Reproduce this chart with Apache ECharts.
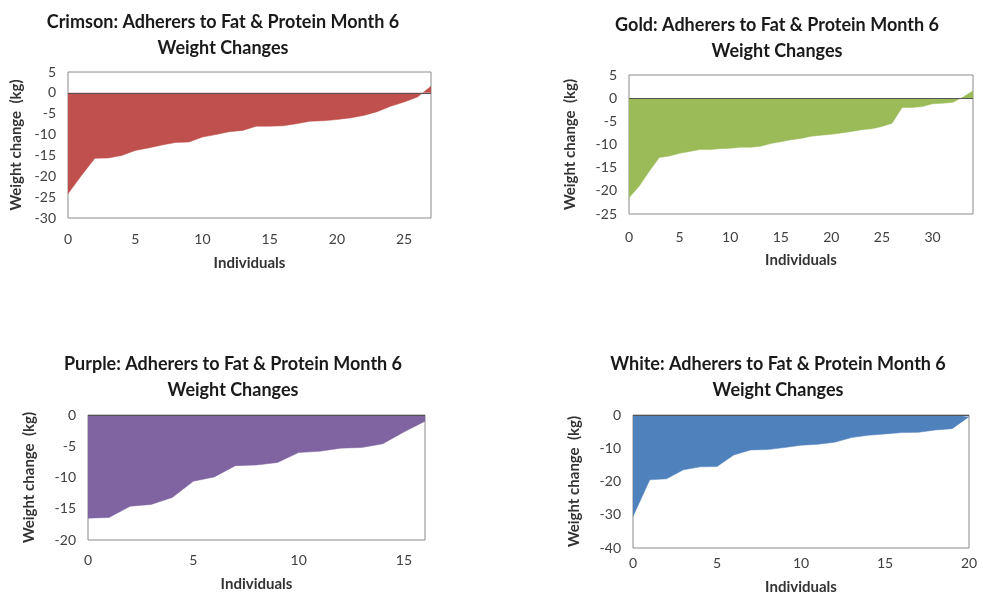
<!DOCTYPE html>
<html>
<head>
<meta charset="utf-8">
<script src="https://cdn.jsdelivr.net/npm/echarts@6/dist/echarts.min.js"></script>
<style>html,body{margin:0;padding:0;background:#fff}#c{width:983px;height:605px}</style>
</head>
<body>
<div id="c"></div>
<script>
const titles = [
  "Crimson: Adherers to Fat & Protein Month 6\nWeight Changes",
  "Gold: Adherers to Fat & Protein Month 6\nWeight Changes",
  "Purple: Adherers to Fat & Protein Month 6\nWeight Changes",
  "White: Adherers to Fat & Protein Month 6\nWeight Changes"
];
const crimson = [-24.2, -19.8, -15.7, -15.6, -15.0, -13.8, -13.2, -12.5, -11.9, -11.8, -10.6, -10.0, -9.3, -9.0, -8.0, -8.0, -7.9, -7.4, -6.8, -6.7, -6.4, -6.0, -5.4, -4.5, -3.2, -2.2, -1.0, 1.6];
const gold = [-21.5, -19.0, -15.8, -12.8, -12.5, -11.9, -11.5, -11.1, -11.1, -10.9, -10.8, -10.6, -10.6, -10.4, -9.8, -9.4, -9.0, -8.7, -8.2, -8.0, -7.8, -7.5, -7.2, -6.8, -6.6, -6.1, -5.4, -2.0, -2.0, -1.8, -1.2, -1.1, -0.9, 0.2, 1.6];
const purple = [-16.5, -16.4, -14.6, -14.3, -13.2, -10.6, -9.9, -8.1, -8.0, -7.6, -6.0, -5.8, -5.3, -5.2, -4.6, -2.7, -1.0];
const white = [-30.5, -19.5, -19.2, -16.5, -15.6, -15.5, -12.0, -10.5, -10.4, -9.8, -9.1, -8.8, -8.2, -6.8, -6.1, -5.7, -5.3, -5.2, -4.5, -4.1, -0.5];
const yMins = [-30, -25, -20, -40];
const yMaxs = [5, 5, 0, 0];
const yIntervals = [5, 5, 5, 10];
const xName = "Individuals";
const yName = "Weight change  (kg)";
const colors = ["#C0504D", "#9BBB59", "#8064A2", "#4F81BD"];
const seriesData = [crimson, gold, purple, white];

const grids = [
  {left: 68, top: 72, width: 363, height: 146},
  {left: 629, top: 75, width: 344, height: 139},
  {left: 88, top: 415, width: 337, height: 125},
  {left: 633, top: 415, width: 336, height: 133}
];
const titlePos = [{x: 218, y: 4}, {x: 772, y: 7}, {x: 228, y: 346}, {x: 773, y: 346}];
const yNameGap = [44, 51, 51, 51];
const xLabelMargin = [14, 16, 13, 8];
const xNameGap = [38, 39, 37, 32];
const font = "Lato, 'Open Sans', sans-serif";

const option = {
  animation: false,
  backgroundColor: "#fff",
  title: titles.map((t, i) => ({
    text: t,
    left: titlePos[i].x,
    top: titlePos[i].y,
    textAlign: "center",
    textStyle: {fontFamily: font, fontSize: 18, fontWeight: "bold", color: "#1a1a1a", lineHeight: 26}
  })),
  grid: grids.map(g => Object.assign({show: true, borderColor: "#8a8a8a", borderWidth: 1, backgroundColor: "transparent"}, g)),
  xAxis: seriesData.map((d, i) => ({
    type: "value", gridIndex: i, min: 0, max: d.length - 1, interval: 5,
    name: xName, nameLocation: "middle", nameGap: xNameGap[i],
    nameTextStyle: {fontFamily: font, fontSize: 15, fontWeight: "bold", color: "#333"},
    axisLine: {show: false}, axisTick: {show: false}, splitLine: {show: false},
    axisLabel: {fontFamily: font, fontSize: 14, color: "#404040", margin: xLabelMargin[i],
      formatter: v => (v % 5 === 0 ? String(v) : "")}
  })),
  yAxis: seriesData.map((d, i) => ({
    type: "value", gridIndex: i, min: yMins[i], max: yMaxs[i], interval: yIntervals[i],
    name: yName, nameLocation: "middle", nameGap: yNameGap[i],
    nameTextStyle: {fontFamily: font, fontSize: 15, fontWeight: "bold", color: "#333"},
    axisLine: {show: false}, axisTick: {show: false}, splitLine: {show: false},
    axisLabel: {fontFamily: font, fontSize: 14, color: "#404040", margin: 12}
  })),
  series: seriesData.map((d, i) => ({
    type: "line", xAxisIndex: i, yAxisIndex: i,
    data: d.map((v, k) => [k, v]),
    symbol: "none",
    lineStyle: {width: 0.5, color: colors[i]},
    areaStyle: {color: colors[i], opacity: 1, origin: 0},
    markLine: {
      silent: true, symbol: "none", label: {show: false},
      lineStyle: {color: "#555", width: 1, type: "solid"},
      data: [{yAxis: 0}]
    },
    z: 2
  }))
};
echarts.init(document.getElementById("c"), null, {renderer: "canvas"}).setOption(option);
</script>
</body>
</html>
